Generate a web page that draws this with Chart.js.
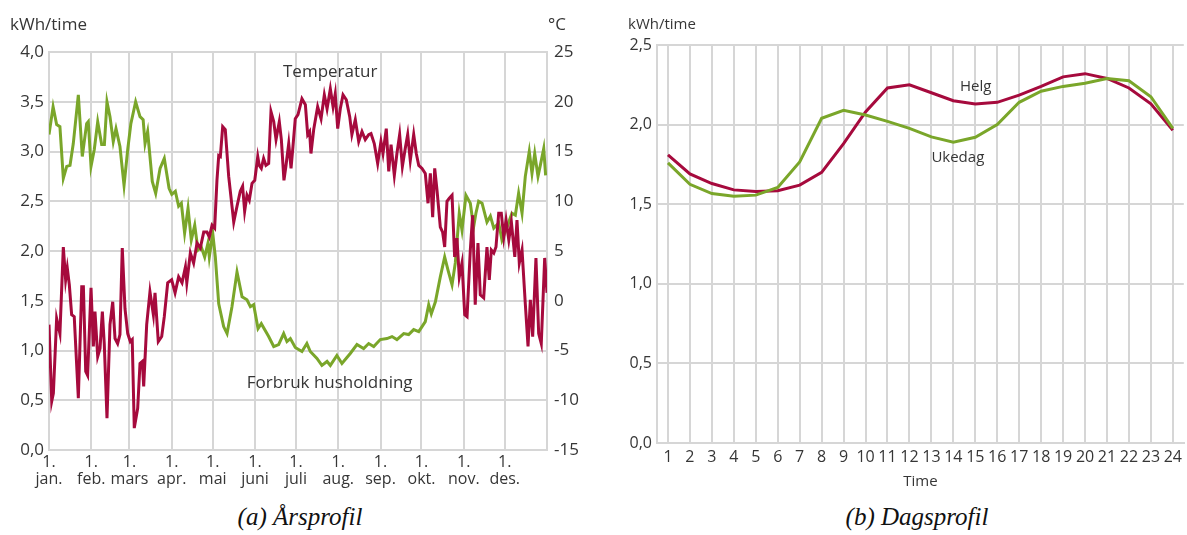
<!DOCTYPE html>
<html>
<head>
<meta charset="utf-8">
<script src="https://cdn.jsdelivr.net/npm/chart.js@4/dist/chart.umd.min.js"></script>
<style>
  html, body { margin: 0; padding: 0; background: #fff; }
  body { width: 1187px; height: 535px; position: relative; overflow: hidden; }
  #yearBox { position: absolute; left: 0; top: 0; width: 600px; height: 500px; }
  #dayBox { position: absolute; left: 600px; top: 0; width: 587px; height: 500px; }
  .caption {
    position: absolute; top: 503px; transform: translateX(-50%); white-space: nowrap;
    font-family: "Liberation Serif", "DejaVu Serif", serif; font-style: italic;
    font-size: 25px; color: #111;
  }
</style>
</head>
<body>
<div id="yearBox"><canvas id="yearChart" width="600" height="500"></canvas></div>
<div id="dayBox"><canvas id="dayChart" width="587" height="500"></canvas></div>
<div class="caption" style="left:300px">(a) Årsprofil</div>
<div class="caption" style="left:917px">(b) Dagsprofil</div>

<script>
// ---- Year profile: day of year (0 = 1 January) ----
const MONTHS = ['jan.', 'feb.', 'mars', 'apr.', 'mai', 'juni', 'juli', 'aug.', 'sep.', 'okt.', 'nov.', 'des.'];
const MONTH_START_DAY = [0, 31, 59, 90, 120, 151, 181, 212, 243, 273, 304, 334];

// Household consumption, kWh per hour
const CONSUMPTION_DAYS = [0, 3, 5.6, 8, 10.5, 13, 15.4, 17.8, 21.5, 24.4, 27.6, 28.8, 30.8, 33.2, 35.7, 38.6, 40.6, 42.5, 44.7, 47.1, 49.1, 52, 55, 57.7, 60, 63.5, 66.7, 69, 70.4, 72.3, 75.7, 78.2, 81.4, 84.5, 88, 90, 92.6, 95, 97, 99.4, 101.9, 104.3, 106.8, 109.2, 111.6, 114.1, 116.5, 117.5, 120, 121.9, 124.4, 128, 130.5, 134.1, 137.8, 141.5, 145.1, 147.6, 150, 153.2, 155.6, 161, 164.7, 168.3, 172, 174.4, 176.9, 180.5, 185.4, 189, 191.5, 196.4, 200, 203.8, 206.2, 211, 214.7, 220.8, 225.7, 230.6, 234.3, 238, 242.8, 247.7, 251.4, 255, 260, 263.6, 267.3, 271, 273.4, 275.8, 278.3, 280.2, 283.2, 286.8, 290, 292.4, 295.4, 297.8, 300.7, 302.7, 305.6, 308.8, 311.2, 312.9, 314.9, 317.4, 321, 323.5, 326, 329.6, 332, 335.7, 339.3, 341.8, 344.2, 346.7, 349.1, 352, 354, 356, 358.4, 360.1, 362.6, 364];
const CONSUMPTION_KWH = [3.17, 3.45, 3.27, 3.25, 2.73, 2.85, 2.86, 3.08, 3.57, 2.95, 3.28, 3.30, 2.85, 3.02, 3.30, 3.07, 3.07, 3.50, 3.35, 3.10, 3.23, 3.05, 2.66, 3.02, 3.28, 3.50, 3.35, 3.32, 3.08, 3.20, 2.70, 2.58, 2.83, 2.93, 2.63, 2.57, 2.60, 2.45, 2.48, 2.18, 2.43, 2.11, 2.26, 2.01, 2.04, 1.94, 2.08, 1.94, 2.18, 1.94, 1.47, 1.24, 1.17, 1.44, 1.79, 1.54, 1.51, 1.44, 1.46, 1.22, 1.27, 1.14, 1.04, 1.06, 1.17, 1.09, 1.12, 1.03, 0.99, 1.07, 0.99, 0.92, 0.85, 0.89, 0.85, 0.95, 0.87, 0.97, 1.06, 1.02, 1.07, 1.04, 1.11, 1.12, 1.14, 1.11, 1.17, 1.16, 1.21, 1.19, 1.24, 1.29, 1.46, 1.37, 1.49, 1.74, 1.94, 1.81, 1.66, 1.88, 2.38, 2.21, 2.56, 2.48, 2.24, 2.38, 2.50, 2.48, 2.29, 2.35, 2.23, 2.28, 2.11, 2.24, 2.38, 2.36, 2.58, 2.38, 2.75, 3.00, 2.78, 2.98, 2.75, 2.86, 3.03, 2.76];

// Outdoor temperature, °C
const TEMPERATURE_DAYS = [0, 2, 3.2, 5.6, 8, 10.5, 12.2, 13.4, 14.9, 16.6, 18.5, 21.5, 24, 25.2, 26.9, 28.3, 30.8, 32.5, 33.7, 35.7, 37.4, 39.1, 40.5, 42.5, 44.7, 46.7, 48.4, 50.3, 52, 53.7, 55.7, 57.7, 59.6, 61, 62.5, 65, 66.7, 68.4, 69.4, 71.6, 74, 76.5, 77.7, 80.1, 82.6, 84.5, 87, 89.9, 92.4, 95, 97.5, 100, 101, 103.6, 106, 108.5, 110.9, 113.4, 115.8, 117.5, 119.5, 121.4, 123.1, 124.4, 125.6, 127.3, 129.2, 131.7, 135.4, 137.8, 140.2, 141.9, 143.4, 145.1, 146.8, 148.8, 150.8, 153, 154.1, 155.6, 157.3, 159, 161, 162.7, 164.7, 166.4, 168.8, 170.3, 172.2, 173.7, 175.7, 177.4, 178.8, 180.5, 182.5, 185.4, 187.9, 189.6, 191, 192, 194, 196.9, 199.4, 201.8, 203.8, 206.2, 208.2, 209.8, 211.6, 213.5, 215.5, 217.9, 220.4, 222, 224.5, 227, 229.4, 231.8, 234.3, 236, 238.4, 240.9, 243.3, 244.8, 247.2, 249, 250.7, 253.1, 255, 257, 259, 261.1, 262.9, 264.8, 267.3, 269.2, 271, 273.4, 275.8, 277.8, 279.5, 281.2, 282.7, 284.4, 286.8, 288.5, 290, 291.7, 293.4, 295.4, 297.3, 299, 300.7, 302.7, 304.7, 306.4, 308.8, 310.5, 312.4, 314.4, 316.1, 318.6, 321, 322.7, 324.2, 326, 327.6, 329.6, 331.5, 333.3, 335, 337, 338.9, 341.4, 343, 344.7, 346.7, 349.1, 351.1, 352.8, 354.5, 356.9, 358.9, 360.8, 363.3, 365];
const TEMPERATURE_C = [-2.4, -10.1, -9.3, -1.8, -3.3, 5.4, 2.1, 3.3, 1.6, -1.4, -1.6, -9.8, 1.4, 1.4, -7.1, -7.5, 1.3, -4.6, -1.1, -5.6, -4.8, -1.1, -4.3, -11.8, -2.4, -0.1, -3.8, -4.3, -3.4, 5.3, -0.8, -3.3, -4.1, -3.9, -12.8, -10.8, -6.3, -6.1, -8.6, -2.4, 0.9, -1.4, 0.8, -4.1, -3.6, -1.6, 1.8, 2.1, 0.8, 2.4, 1.8, 3.4, 1.8, 4.8, 3.8, 5.8, 5.3, 6.9, 6.9, 6.4, 7.6, 7.3, 12.1, 14.6, 14.5, 17.5, 17.2, 12.5, 7.9, 9.5, 11.0, 11.5, 9.0, 10.6, 10.1, 11.8, 12.1, 14.5, 13.6, 13.3, 14.3, 13.6, 13.8, 19.0, 18.0, 16.2, 18.0, 16.2, 12.1, 13.6, 15.8, 13.3, 15.5, 18.3, 18.7, 20.3, 19.7, 16.7, 17.0, 14.8, 17.2, 19.5, 18.3, 20.7, 19.3, 21.3, 19.5, 20.8, 17.3, 19.3, 20.7, 20.2, 18.5, 16.7, 18.2, 16.0, 17.0, 16.2, 16.7, 16.8, 15.8, 13.8, 16.0, 14.8, 17.3, 13.0, 15.7, 12.6, 14.8, 16.7, 13.5, 15.3, 16.7, 14.1, 16.7, 14.8, 13.6, 13.3, 12.8, 9.8, 12.8, 8.4, 13.3, 11.1, 7.4, 6.9, 5.4, 10.0, 10.3, 10.6, 4.4, 6.3, 2.4, 3.8, -1.4, -1.6, 5.1, 8.6, -0.4, 5.8, 0.6, 0.3, 5.4, 2.1, 5.1, 4.8, 5.4, 8.8, 8.8, 6.4, 8.1, 6.1, 7.9, 4.4, 8.1, 3.8, 5.1, -0.3, -4.6, 0.1, -3.6, 4.3, -3.3, -4.3, 4.3, 0.8];

// ---- Day profile: hour of day ----
const HOURS = ['1', '2', '3', '4', '5', '6', '7', '8', '9', '10', '11', '12', '13', '14', '15', '16', '17', '18', '19', '20', '21', '22', '23', '24'];
const WEEKEND_KWH = [1.81, 1.69, 1.63, 1.59, 1.58, 1.585, 1.62, 1.70, 1.88, 2.08, 2.23, 2.25, 2.20, 2.15, 2.13, 2.14, 2.185, 2.24, 2.30, 2.32, 2.29, 2.23, 2.13, 1.965];
const WEEKDAY_KWH = [1.76, 1.625, 1.567, 1.55, 1.557, 1.605, 1.766, 2.04, 2.09, 2.06, 2.02, 1.976, 1.923, 1.89, 1.92, 2.00, 2.14, 2.21, 2.24, 2.26, 2.29, 2.275, 2.175, 1.976];

// ---- Styling ----
const RED = '#a60a3d';
const GREEN = '#7aa62a';
const GRID = '#d6d6d6';
const TEXT = '#363636';
const FONT = '"Open Sans", "Noto Sans", sans-serif';

const toPoints = (xs, ys) => xs.map((x, i) => ({ x, y: ys[i] }));
const comma1 = v => Number(v).toFixed(1).replace('.', ',');

// Draws series names at data coordinates and the unit captions above the axes
const chartTexts = {
  id: 'chartTexts',
  afterDraw(chart, args, opts) {
    const ctx = chart.ctx;
    ctx.save();
    ctx.fillStyle = TEXT;
    ctx.textBaseline = 'middle';
    ctx.textAlign = 'left';
    (opts.series || []).forEach(t => {
      ctx.font = opts.seriesFont;
      const x = chart.scales.x.getPixelForValue(t.x);
      const y = chart.scales[t.axis].getPixelForValue(t.y);
      ctx.fillText(t.text, x, y);
    });
    (opts.units || []).forEach(u => {
      ctx.font = opts.unitFont;
      const x = u.side === 'left' ? chart.chartArea.left + u.dx : chart.chartArea.right + u.dx;
      ctx.fillText(u.text, x, u.y);
    });
    ctx.restore();
  }
};

const gridStyle = { color: GRID, lineWidth: 2, drawTicks: false };
const borderStyle = { color: GRID, width: 2 };

new Chart(document.getElementById('yearChart'), {
  type: 'line',
  data: {
    datasets: [
      {
        label: 'Temperatur',
        data: toPoints(TEMPERATURE_DAYS, TEMPERATURE_C),
        yAxisID: 'yTemp',
        borderColor: RED,
        borderWidth: 3,
        pointRadius: 0,
        tension: 0,
        order: 0
      },
      {
        label: 'Forbruk husholdning',
        data: toPoints(CONSUMPTION_DAYS, CONSUMPTION_KWH),
        yAxisID: 'y',
        borderColor: GREEN,
        borderWidth: 3,
        pointRadius: 0,
        tension: 0,
        order: 1
      }
    ]
  },
  options: {
    responsive: false,
    animation: false,
    events: [],
    layout: { padding: { top: 52, left: 0, right: 0, bottom: 0 } },
    plugins: {
      legend: { display: false },
      tooltip: { enabled: false },
      chartTexts: {
        seriesFont: '17px ' + FONT,
        unitFont: '17px ' + FONT,
        series: [
          { text: 'Temperatur', x: 171.5, y: 3.80, axis: 'y' },
          { text: 'Forbruk husholdning', x: 145, y: 0.67, axis: 'y' }
        ],
        units: [
          { text: 'kWh/time', side: 'left', dx: -39, y: 25 },
          { text: '°C', side: 'right', dx: 1, y: 25 }
        ]
      }
    },
    scales: {
      x: {
        type: 'linear',
        min: 0,
        max: 365,
        afterBuildTicks: s => { s.ticks = MONTH_START_DAY.map(v => ({ value: v })); },
        afterFit: s => { s.height = 50; },
        ticks: {
          autoSkip: false,
          maxRotation: 0,
          padding: 4,
          color: TEXT,
          font: { family: FONT, size: 16, lineHeight: 1.05 },
          callback: (v, i) => ['1.', MONTHS[i]]
        },
        grid: gridStyle,
        border: borderStyle
      },
      y: {
        position: 'left',
        min: 0,
        max: 4,
        afterFit: s => { s.width = 49; },
        ticks: {
          stepSize: 0.5,
          padding: 5,
          color: TEXT,
          font: { family: FONT, size: 17 },
          callback: v => comma1(v)
        },
        grid: gridStyle,
        border: borderStyle
      },
      yTemp: {
        position: 'right',
        min: -15,
        max: 25,
        afterFit: s => { s.width = 53; },
        ticks: {
          stepSize: 5,
          padding: 7,
          color: TEXT,
          font: { family: FONT, size: 17 }
        },
        grid: { display: false, drawTicks: false },
        border: borderStyle
      }
    }
  },
  plugins: [chartTexts]
});

new Chart(document.getElementById('dayChart'), {
  type: 'line',
  data: {
    labels: HOURS,
    datasets: [
      {
        label: 'Ukedag',
        data: WEEKDAY_KWH,
        borderColor: GREEN,
        borderWidth: 3,
        pointRadius: 0,
        tension: 0,
        order: 0
      },
      {
        label: 'Helg',
        data: WEEKEND_KWH,
        borderColor: RED,
        borderWidth: 3,
        pointRadius: 0,
        tension: 0,
        order: 1
      }
    ]
  },
  options: {
    responsive: false,
    animation: false,
    events: [],
    layout: { padding: { top: 45, left: 0, right: 1, bottom: 0 } },
    plugins: {
      legend: { display: false },
      tooltip: { enabled: false },
      chartTexts: {
        seriesFont: '15px ' + FONT,
        unitFont: '15px ' + FONT,
        series: [
          { text: 'Helg', x: 13.3, y: 2.236, axis: 'y' },
          { text: 'Ukedag', x: 12.0, y: 1.79, axis: 'y' }
        ],
        units: [
          { text: 'kWh/time', side: 'left', dx: -29, y: 25 }
        ]
      }
    },
    scales: {
      x: {
        type: 'category',
        offset: true,
        afterFit: s => { s.height = 57; },
        ticks: {
          autoSkip: false,
          maxRotation: 0,
          padding: 5,
          color: TEXT,
          font: { family: FONT, size: 16 }
        },
        title: {
          display: true,
          text: 'Time',
          color: TEXT,
          padding: { top: 2, bottom: 9 },
          font: { family: FONT, size: 15 }
        },
        grid: { color: GRID, lineWidth: 2, drawTicks: false, offset: false },
        border: borderStyle
      },
      y: {
        position: 'left',
        min: 0,
        max: 2.5,
        afterFit: s => { s.width = 57; },
        ticks: {
          stepSize: 0.5,
          padding: 5,
          color: TEXT,
          font: { family: FONT, size: 16 },
          callback: v => comma1(v)
        },
        grid: gridStyle,
        border: borderStyle
      }
    }
  },
  plugins: [chartTexts]
});
</script>
</body>
</html>
